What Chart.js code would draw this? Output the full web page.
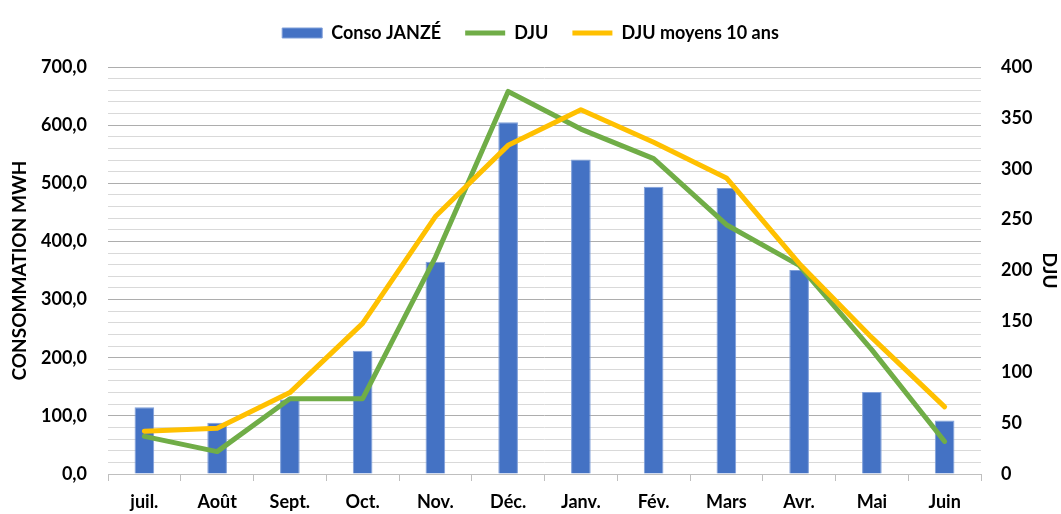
<!DOCTYPE html>
<html>
<head>
<meta charset="utf-8">
<script src="https://cdn.jsdelivr.net/npm/chart.js@4/dist/chart.umd.min.js"></script>
<style>
  html, body { margin: 0; padding: 0; background: #fff; }
  #wrap { width: 1061px; height: 514px; }
</style>
</head>
<body>
<div id="wrap"><canvas id="chart"></canvas></div>
<script>
// data
const months = ["juil.", "Août", "Sept.", "Oct.", "Nov.", "Déc.", "Janv.", "Fév.", "Mars", "Avr.", "Mai", "Juin"];
const consoMWh = [115, 88, 128, 212, 365, 605, 541, 494, 492, 351, 141, 92];
const dju = [37, 22, 74, 74, 213, 376, 339, 310, 245, 205, 122, 32];
const djuMoyens10 = [42, 45, 80, 148, 253, 323, 358, 326, 291, 207, 134, 66];

Chart.defaults.font.family = "Lato, 'Open Sans', sans-serif";
Chart.defaults.font.weight = "bold";
Chart.defaults.font.size = 18;
Chart.defaults.color = "#000";

const BLUE = "#4472C4", GREEN = "#70AD47", YELLOW = "#FFC000";

const fmt = v => v.toFixed(1).replace(".", ",");

const ctx = document.getElementById("chart").getContext("2d");
const chart = new Chart(ctx, {
  data: {
    labels: months,
    datasets: [
      {
        type: "bar",
        label: "Conso JANZÉ",
        data: consoMWh,
        yAxisID: "y",
        backgroundColor: BLUE,
        borderColor: "#7F9FD9",
        borderWidth: 1,
        categoryPercentage: 1,
        barPercentage: 0.27,
        pointStyle: "rect",
        order: 3
      },
      {
        type: "line",
        label: "DJU",
        data: dju,
        yAxisID: "y1",
        borderColor: GREEN,
        backgroundColor: GREEN,
        borderWidth: 5,
        borderCapStyle: "round",
        borderJoinStyle: "round",
        pointRadius: 0,
        pointStyle: "line",
        tension: 0,
        order: 2
      },
      {
        type: "line",
        label: "DJU moyens 10 ans",
        data: djuMoyens10,
        yAxisID: "y1",
        borderColor: YELLOW,
        backgroundColor: YELLOW,
        borderWidth: 5,
        borderCapStyle: "round",
        borderJoinStyle: "round",
        pointRadius: 0,
        pointStyle: "line",
        tension: 0,
        order: 1
      }
    ]
  },
  options: {
    responsive: true,
    maintainAspectRatio: false,
    animation: false,
    layout: { padding: 0 },
    plugins: {
      tooltip: { enabled: false },
      legend: {
        position: "top",
        labels: {
          usePointStyle: true,
          pointStyleWidth: 40,
          boxHeight: 10,
          padding: 24,
          sort: (a, b) => a.datasetIndex - b.datasetIndex
        }
      }
    },
    scales: {
      x: {
        grid: {
          drawOnChartArea: false,
          drawTicks: true,
          tickLength: 7,
          color: "#BFBFBF",
          offset: true
        },
        border: { display: true, color: "#BFBFBF" },
        ticks: { padding: 10, maxRotation: 0 },
        afterFit: s => { s.height = 40; }
      },
      y: {
        position: "left",
        min: 0,
        max: 700,
        ticks: {
          stepSize: 20,
          autoSkip: false,
          padding: 21,
          callback: v => (v % 100 === 0 ? fmt(v) : "")
        },
        grid: {
          drawTicks: false,
          color: c => (c.tick.value % 100 === 0 ? "#ADADAD" : "#D9D9D9")
        },
        border: { display: false },
        title: {
          display: true,
          text: "CONSOMMATION MWH",
          font: { size: 19 },
          padding: { top: 8, bottom: 0 }
        },
        afterFit: s => { s.width = 108; }
      },
      y1: {
        position: "right",
        min: 0,
        max: 400,
        ticks: { stepSize: 50, autoSkip: false, padding: 20 },
        grid: { display: false, drawTicks: false },
        border: { display: false },
        title: {
          display: true,
          text: "DJU",
          font: { size: 19 },
          padding: { top: 0, bottom: 4 }
        },
        afterFit: s => { s.width = 80; }
      }
    }
  }
});

// reserve the same room above the plot as the original
const legendFit = chart.legend.fit;
chart.legend.fit = function () {
  legendFit.call(this);
  this.height = 67;
};
chart.update();
</script>
</body>
</html>
